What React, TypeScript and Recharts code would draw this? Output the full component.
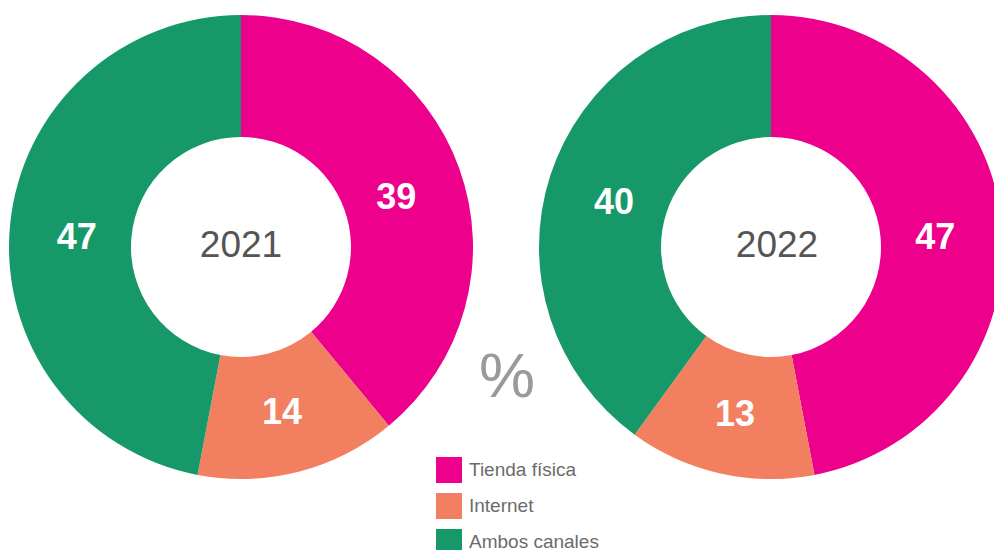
import { PieChart, Pie, Cell } from "recharts";

const categories = ["Tienda física", "Internet", "Ambos canales"];
const colors = ["#EC008C", "#F28060", "#169868"];
const values2021 = [39, 14, 47];
const values2022 = [47, 13, 40];
const years = ["2021", "2022"];

const FONT = "'Liberation Sans', Arial, Helvetica, sans-serif";
const RAD = Math.PI / 180;

const toData = (vals: number[]) =>
  categories.map((name, i) => ({ name, value: vals[i] }));

// value label placed in the middle of the ring
const renderLabel = (props: any) => {
  const { cx, cy, midAngle, innerRadius, outerRadius, value } = props;
  const r = (innerRadius + outerRadius) / 2 - 6;
  const x = cx + r * Math.cos(-midAngle * RAD);
  const y = cy + r * Math.sin(-midAngle * RAD) + 5;
  return (
    <text
      x={x}
      y={y}
      fill="#ffffff"
      fontFamily={FONT}
      fontWeight="bold"
      fontSize={36}
      textAnchor="middle"
      dominantBaseline="central"
    >
      {value}
    </text>
  );
};

const LegendBox = () => (
  <div style={{ fontFamily: FONT, position: "absolute", left: 436, top: 452 }}>
    {categories.map((c, i) => (
      <div
        key={c}
        style={{ display: "flex", alignItems: "center", height: 36 }}
      >
        <span
          style={{
            width: 26,
            height: 26,
            background: colors[i],
            display: "inline-block",
            marginRight: 7,
          }}
        />
        <span style={{ color: "#6b6b6b", fontSize: 19 }}>{c}</span>
      </div>
    ))}
  </div>
);

export default function App() {
  const pies = [
    { data: toData(values2021), cx: 241, year: years[0] },
    { data: toData(values2022), cx: 771, year: years[1] },
  ];
  return (
    <div
      style={{
        position: "relative",
        width: 994,
        height: 550,
        overflow: "hidden",
        background: "#fff",
      }}
    >
      <style>{`html,body{margin:0;padding:0;overflow:hidden;}`}</style>
      <PieChart width={994} height={550} margin={{ top: 0, right: 0, bottom: 0, left: 0 }}>
        {pies.map((p) => (
          <Pie
            key={p.year}
            data={p.data}
            dataKey="value"
            nameKey="name"
            cx={p.cx}
            cy={247}
            innerRadius={110}
            outerRadius={232}
            startAngle={90}
            endAngle={-270}
            stroke="none"
            label={renderLabel}
            labelLine={false}
            isAnimationActive={false}
          >
            {p.data.map((d, i) => (
              <Cell key={d.name} fill={colors[i]} />
            ))}
          </Pie>
        ))}
        {pies.map((p) => (
          <text
            key={"t" + p.year}
            x={p.cx + (p.year === "2022" ? 6 : 0)}
            y={244}
            textAnchor="middle"
            dominantBaseline="central"
            fontFamily={FONT}
            fontSize={37}
            fill="#555555"
          >
            {p.year}
          </text>
        ))}
        <text
          x={507}
          y={375}
          textAnchor="middle"
          dominantBaseline="central"
          fontFamily={FONT}
          fontWeight={300}
          fontSize={63}
          fill="#9a9a9a"
        >
          %
        </text>
      </PieChart>
      <LegendBox />
    </div>
  );
}
